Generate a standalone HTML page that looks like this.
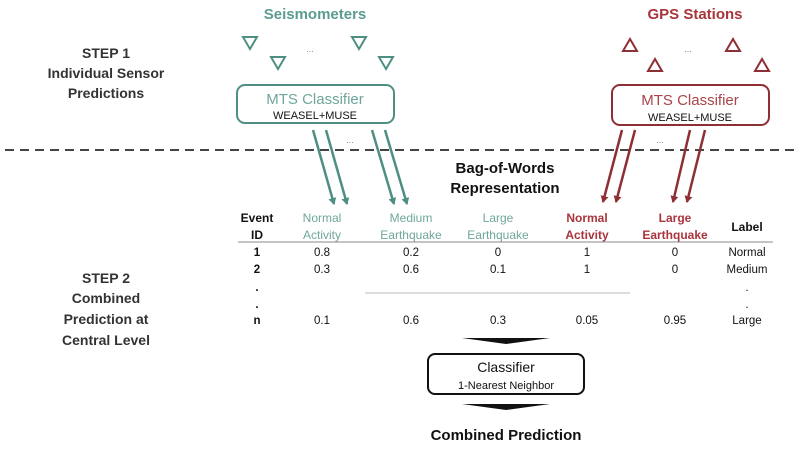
<!DOCTYPE html>
<html><head><meta charset="utf-8"><style>
html,body{margin:0;padding:0;background:#fff;}
svg{display:block;font-family:"Liberation Sans",sans-serif;}
</style></head><body>
<svg width="800" height="455" viewBox="0 0 800 455" xmlns="http://www.w3.org/2000/svg">
<defs>
<marker id="at" markerWidth="8" markerHeight="8" refX="6" refY="4" orient="auto" markerUnits="userSpaceOnUse"><path d="M0,0 L7,4 L0,8 z" fill="#4f8f83"/></marker>
<marker id="ar" markerWidth="8" markerHeight="8" refX="6" refY="4" orient="auto" markerUnits="userSpaceOnUse"><path d="M0,0 L7,4 L0,8 z" fill="#8e2f35"/></marker>
</defs>
<g fill="#333" font-size="14" font-weight="bold" text-anchor="middle">
<text x="106" y="58">STEP 1</text>
<text x="106" y="78">Individual Sensor</text>
<text x="106" y="98">Predictions</text>
<text x="106" y="283">STEP 2</text>
<text x="106" y="303">Combined</text>
<text x="106" y="324">Prediction at</text>
<text x="106" y="345">Central Level</text>
</g>
<text x="315" y="19" font-size="15" font-weight="bold" fill="#5a9c90" text-anchor="middle">Seismometers</text>
<text x="695" y="19" font-size="15" font-weight="bold" fill="#a8343c" text-anchor="middle">GPS Stations</text>
<g fill="none" stroke="#4f8f83" stroke-width="2">
<path d="M243,37 L257,37 L250,49 z"/><path d="M271,57 L285,57 L278,69 z"/>
<path d="M352,37 L366,37 L359,49 z"/><path d="M379,57 L393,57 L386,69 z"/>
<rect x="237" y="85" width="157" height="38" rx="8"/>
</g>
<g fill="none" stroke="#8e2f35" stroke-width="2">
<path d="M623,51 L637,51 L630,39 z"/><path d="M648,71 L662,71 L655,59 z"/>
<path d="M726,51 L740,51 L733,39 z"/><path d="M755,71 L769,71 L762,59 z"/>
<rect x="612" y="85" width="157" height="40" rx="8"/>
</g>
<text x="310" y="52" font-size="9" fill="#888" text-anchor="middle">...</text>
<text x="688" y="52" font-size="9" fill="#888" text-anchor="middle">...</text>
<text x="315" y="104" font-size="15" fill="#6fa69c" text-anchor="middle">MTS Classifier</text>
<text x="315" y="119" font-size="11" fill="#111" text-anchor="middle">WEASEL+MUSE</text>
<text x="690" y="105" font-size="15" fill="#a8444a" text-anchor="middle">MTS Classifier</text>
<text x="690" y="121" font-size="11" fill="#111" text-anchor="middle">WEASEL+MUSE</text>
<line x1="5" y1="150" x2="800" y2="150" stroke="#444" stroke-width="2" stroke-dasharray="9,6"/>
<text x="350" y="143" font-size="9" fill="#888" text-anchor="middle">...</text>
<text x="660" y="143" font-size="9" fill="#888" text-anchor="middle">...</text>
<g stroke="#4f8f83" stroke-width="2.5" marker-end="url(#at)">
<line x1="313" y1="130" x2="334" y2="204"/><line x1="326" y1="130" x2="347" y2="204"/>
<line x1="372" y1="130" x2="394" y2="204"/><line x1="385" y1="130" x2="407" y2="204"/>
</g>
<g stroke="#8e2f35" stroke-width="2.5" marker-end="url(#ar)">
<line x1="622" y1="130" x2="603" y2="202"/><line x1="635" y1="130" x2="616" y2="202"/>
<line x1="690" y1="130" x2="673" y2="202"/><line x1="705" y1="130" x2="687" y2="202"/>
</g>
<text x="505" y="173" font-size="15" font-weight="bold" fill="#111" text-anchor="middle">Bag-of-Words</text>
<text x="505" y="193" font-size="15" font-weight="bold" fill="#111" text-anchor="middle">Representation</text>
<g font-size="12" text-anchor="middle">
<text x="257" y="222" font-weight="bold" fill="#111">Event</text>
<text x="257" y="239" font-weight="bold" fill="#111">ID</text>
<text x="322" y="222" fill="#6fa69c">Normal</text><text x="322" y="239" fill="#6fa69c">Activity</text>
<text x="411" y="222" fill="#6fa69c">Medium</text><text x="411" y="239" fill="#6fa69c">Earthquake</text>
<text x="498" y="222" fill="#6fa69c">Large</text><text x="498" y="239" fill="#6fa69c">Earthquake</text>
<text x="587" y="222" fill="#a8343c" font-weight="bold">Normal</text><text x="587" y="239" fill="#a8343c" font-weight="bold">Activity</text>
<text x="675" y="222" fill="#a8343c" font-weight="bold">Large</text><text x="675" y="239" fill="#a8343c" font-weight="bold">Earthquake</text>
<text x="747" y="231" font-weight="bold" fill="#111">Label</text>
</g>
<line x1="238" y1="242" x2="773" y2="242" stroke="#888" stroke-width="1"/>
<line x1="365" y1="293" x2="630" y2="293" stroke="#bbb" stroke-width="1"/>
<g font-size="11.5" fill="#111" text-anchor="middle">
<text x="257" y="256" font-weight="bold">1</text><text x="322" y="256">0.8</text><text x="411" y="256">0.2</text><text x="498" y="256">0</text><text x="587" y="256">1</text><text x="675" y="256">0</text><text x="747" y="256">Normal</text>
<text x="257" y="273" font-weight="bold">2</text><text x="322" y="273">0.3</text><text x="411" y="273">0.6</text><text x="498" y="273">0.1</text><text x="587" y="273">1</text><text x="675" y="273">0</text><text x="747" y="273">Medium</text>
<text x="257" y="291" font-weight="bold">.</text><text x="747" y="291">.</text>
<text x="257" y="308" font-weight="bold">.</text><text x="747" y="308">.</text>
<text x="257" y="324" font-weight="bold">n</text><text x="322" y="324">0.1</text><text x="411" y="324">0.6</text><text x="498" y="324">0.3</text><text x="587" y="324">0.05</text><text x="675" y="324">0.95</text><text x="747" y="324">Large</text>
</g>
<path d="M462,338 L550,338 L506,344 z" fill="#111"/>
<rect x="428" y="354" width="156" height="40" rx="7" fill="none" stroke="#111" stroke-width="2"/>
<text x="506" y="372" font-size="14" fill="#111" text-anchor="middle">Classifier</text>
<text x="506" y="389" font-size="11" fill="#111" text-anchor="middle">1-Nearest Neighbor</text>
<path d="M462,404 L550,404 L506,410 z" fill="#111"/>
<text x="506" y="440" font-size="15" font-weight="bold" fill="#111" text-anchor="middle">Combined Prediction</text>
</svg>
</body></html>
